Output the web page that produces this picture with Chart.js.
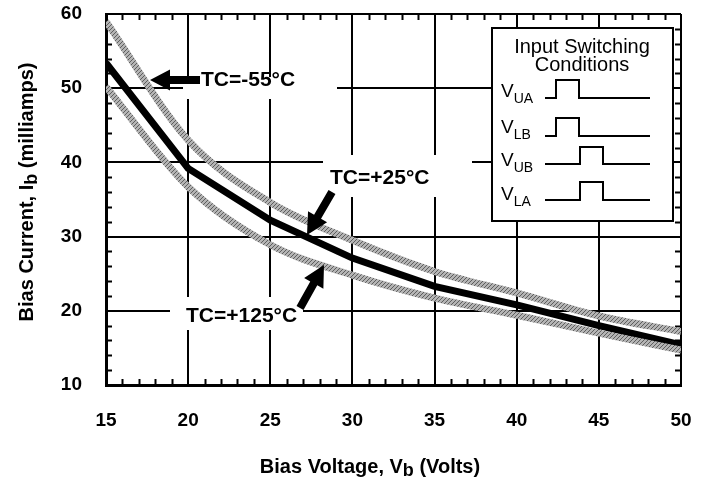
<!DOCTYPE html>
<html>
<head>
<meta charset="utf-8">
<script src="https://cdn.jsdelivr.net/npm/chart.js@4.4.0/dist/chart.umd.min.js"></script>
<style>
  html, body { margin: 0; padding: 0; background: #fff; }
  #wrap { width: 713px; height: 485px; }
</style>
</head>
<body>
<div id="wrap"><canvas id="biasChart" width="713" height="485"></canvas></div>
<script>
// Bias current vs bias voltage, three case temperatures
const biasVoltage = [15, 20, 25, 30, 35, 40, 45, 50];
const currentMinus55 = [59.0, 43.0, 34.6, 29.5, 25.3, 22.4, 19.3, 17.2];
const currentPlus25 = [53.4, 39.2, 32.2, 27.1, 23.3, 20.8, 18.0, 15.4];
const currentPlus125 = [50.2, 36.7, 28.9, 24.8, 21.7, 19.4, 17.0, 14.7];
const xTickValues = [15, 20, 25, 30, 35, 40, 45, 50];
const yTickValues = [10, 20, 30, 40, 50, 60];

const FONT = "'Liberation Sans', Arial, Helvetica, sans-serif";

// hatched gray like the printed curves
function makeHatch() {
  const c = document.createElement('canvas');
  c.width = 4; c.height = 4;
  const g = c.getContext('2d');
  g.fillStyle = '#b4b4b4';
  g.fillRect(0, 0, 4, 4);
  g.fillStyle = '#5e5e5e';
  for (let i = 0; i < 4; i++) g.fillRect(i, 3 - i, 1, 1);
  return g.createPattern(c, 'repeat');
}
const hatch = makeHatch();

function toPoints(ys) {
  return biasVoltage.map((v, i) => ({ x: v, y: ys[i] }));
}

function drawArrow(ctx, x0, y0, x1, y1, shaft, headLen, headW) {
  const ang = Math.atan2(y1 - y0, x1 - x0);
  const len = Math.hypot(x1 - x0, y1 - y0);
  ctx.save();
  ctx.translate(x0, y0);
  ctx.rotate(ang);
  ctx.beginPath();
  ctx.moveTo(0, -shaft / 2);
  ctx.lineTo(len - headLen, -shaft / 2);
  ctx.lineTo(len - headLen, -headW / 2);
  ctx.lineTo(len, 0);
  ctx.lineTo(len - headLen, headW / 2);
  ctx.lineTo(len - headLen, shaft / 2);
  ctx.lineTo(0, shaft / 2);
  ctx.closePath();
  ctx.fillStyle = '#000';
  ctx.fill();
  ctx.restore();
}

// text runs: [text, size, dy]
function drawRuns(ctx, runs, x, y, align, weight) {
  let total = 0;
  runs.forEach(r => { ctx.font = weight + ' ' + r[1] + 'px ' + FONT; total += ctx.measureText(r[0]).width; });
  let cx = align === 'center' ? x - total / 2 : x;
  ctx.textAlign = 'left';
  ctx.textBaseline = 'alphabetic';
  runs.forEach(r => {
    ctx.font = weight + ' ' + r[1] + 'px ' + FONT;
    ctx.fillText(r[0], cx, y + r[2]);
    cx += ctx.measureText(r[0]).width;
  });
}

const labelBoxes = [
  [183, 77, 154, 22],
  [323, 155, 149, 42],
  [170, 297, 133, 33]
];

const extrasPlugin = {
  id: 'extras',
  beforeDatasetsDraw(chart) {
    const ctx = chart.ctx;
    const xs = chart.scales.x, ys = chart.scales.y;
    const a = chart.chartArea;
    ctx.save();
    // minor ticks, inside the frame
    ctx.strokeStyle = '#000';
    ctx.lineWidth = 2;
    ctx.beginPath();
    for (let v = 16; v < 50; v++) {
      if (v % 5 === 0) continue;
      const px = Math.round(xs.getPixelForValue(v)) + 0.5;
      ctx.moveTo(px, a.bottom); ctx.lineTo(px, a.bottom - 6);
      ctx.moveTo(px, a.top); ctx.lineTo(px, a.top + 6);
    }
    for (let v = 12; v < 60; v += 2) {
      if (v % 10 === 0) continue;
      const py = Math.round(ys.getPixelForValue(v)) + 0.5;
      ctx.moveTo(a.left, py); ctx.lineTo(a.left + 6, py);
      ctx.moveTo(a.right, py); ctx.lineTo(a.right - 6, py);
    }
    ctx.stroke();
    // white panels behind labels break the grid
    ctx.fillStyle = '#fff';
    labelBoxes.forEach(b => ctx.fillRect(b[0], b[1], b[2], b[3]));
    ctx.restore();
  },
  afterDatasetsDraw(chart) {
    const ctx = chart.ctx;
    ctx.save();
    ctx.fillStyle = '#000';
    // curve labels and arrows
    drawRuns(ctx, [['TC=-55°C', 21, 0]], 201, 86, 'left', 'bold');
    drawArrow(ctx, 200, 80, 150, 80, 8, 20, 21);
    drawRuns(ctx, [['TC=+25°C', 21, 0]], 330, 184, 'left', 'bold');
    drawArrow(ctx, 332, 192, 307, 235, 8, 21, 22);
    drawRuns(ctx, [['TC=+125°C', 21, 0]], 186, 322, 'left', 'bold');
    drawArrow(ctx, 300, 308, 324, 265, 8, 21, 22);

    // legend: input switching conditions
    ctx.fillStyle = '#fff';
    ctx.fillRect(492, 28, 181, 193);
    ctx.strokeStyle = '#000';
    ctx.lineWidth = 2;
    ctx.strokeRect(492, 28, 181, 193);
    ctx.fillStyle = '#000';
    drawRuns(ctx, [['Input Switching', 20, 0]], 582, 53, 'center', 'normal');
    drawRuns(ctx, [['Conditions', 20, 0]], 582, 71, 'center', 'normal');
    const rows = [
      ['UA', 97, 98, 80, 556, 579],
      ['LB', 133, 136, 118, 556, 579],
      ['UB', 166, 164, 147, 580, 603],
      ['LA', 200, 200, 182, 580, 603]
    ];
    rows.forEach(r => {
      drawRuns(ctx, [['V', 19, 0], [r[0], 14, 6]], 501, r[1], 'left', 'normal');
      ctx.beginPath();
      ctx.moveTo(545, r[2]);
      ctx.lineTo(r[4], r[2]);
      ctx.lineTo(r[4], r[3]);
      ctx.lineTo(r[5], r[3]);
      ctx.lineTo(r[5], r[2]);
      ctx.lineTo(650, r[2]);
      ctx.stroke();
    });

    // axis titles with subscripts
    drawRuns(ctx, [['Bias Voltage, V', 20, 0], ['b', 18, 3], [' (Volts)', 20, 0]], 370, 473, 'center', 'bold');
    ctx.translate(33, 192);
    ctx.rotate(-Math.PI / 2);
    drawRuns(ctx, [['Bias Current, I', 20, 0], ['b', 18, 4], [' (milliamps)', 20, 0]], 0, 0, 'center', 'bold');
    ctx.restore();
  }
};

const ctx = document.getElementById('biasChart').getContext('2d');
const biasChart = new Chart(ctx, {
  type: 'line',
  data: {
    datasets: [
      {
        label: 'TC=-55°C',
        data: toPoints(currentMinus55),
        borderColor: hatch,
        borderWidth: 7,
        pointRadius: 0,
        cubicInterpolationMode: 'monotone'
      },
      {
        label: 'TC=+125°C',
        data: toPoints(currentPlus125),
        borderColor: hatch,
        borderWidth: 7,
        pointRadius: 0,
        cubicInterpolationMode: 'monotone'
      },
      {
        label: 'TC=+25°C',
        data: toPoints(currentPlus25),
        borderColor: '#000',
        borderWidth: 7,
        pointRadius: 0,
        tension: 0
      }
    ]
  },
  options: {
    responsive: false,
    animation: false,
    devicePixelRatio: 1,
    layout: { padding: { left: 0, right: 32, top: 14, bottom: 0 } },
    plugins: {
      legend: { display: false },
      tooltip: { enabled: false }
    },
    scales: {
      x: {
        type: 'linear',
        min: 15,
        max: 50,
        afterBuildTicks: s => { s.ticks = xTickValues.map(v => ({ value: v })); },
        afterFit: s => { s.height = 100; s.paddingLeft = 0; s.paddingRight = 0; },
        ticks: {
          color: '#000',
          padding: 24,
          font: { family: FONT, size: 19, weight: 'bold' }
        },
        grid: { color: '#000', lineWidth: 2, drawTicks: false },
        border: { color: '#000', width: 3 }
      },
      y: {
        min: 10,
        max: 60,
        afterBuildTicks: s => { s.ticks = yTickValues.map(v => ({ value: v })); },
        afterFit: s => { s.width = 106; s.paddingTop = 0; s.paddingBottom = 0; },
        ticks: {
          color: '#000',
          padding: 24,
          font: { family: FONT, size: 19, weight: 'bold' }
        },
        grid: { color: '#000', lineWidth: 2, drawTicks: false },
        border: { color: '#000', width: 3 }
      }
    }
  },
  plugins: [extrasPlugin]
});
</script>
</body>
</html>
